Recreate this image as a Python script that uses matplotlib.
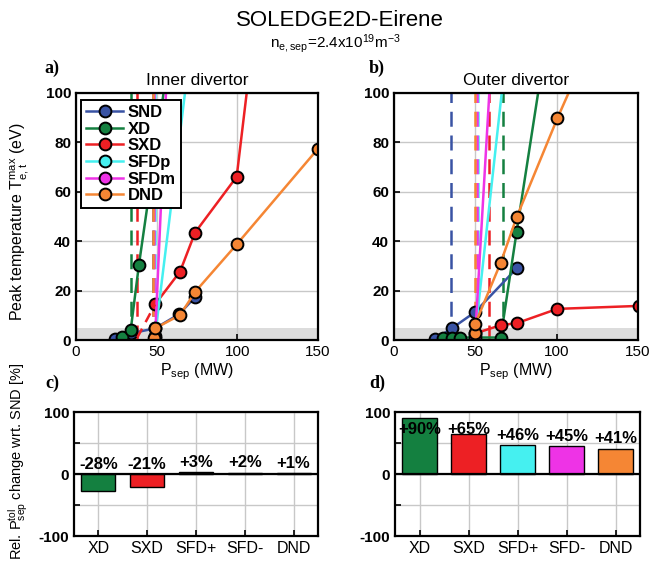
import matplotlib
matplotlib.use("Agg")
import matplotlib.pyplot as plt
import numpy as np

plt.rcParams['font.family'] = ['Liberation Sans', 'DejaVu Sans']
plt.rcParams['mathtext.default'] = 'regular'

# colours per configuration
names = ['SND', 'XD', 'SXD', 'SFDp', 'SFDm', 'DND']
colors = ['#3953a4', '#148040', '#ed2024', '#45f0f0', '#ee33e6', '#f58634']

# --- inner divertor, peak Te vs Psep ---
inner_x = {
    'SND':  [24, 34, 49, 64, 74],
    'XD':   [28.7, 33.9, 39, 58],
    'SXD':  [49, 64.5, 73.8, 99.6, 110],
    'SFDp': [49, 70],
    'SFDm': [49, 57],
    'DND':  [48.5, 49, 64.5, 74, 99.6, 149.8],
}
inner_y = {
    'SND':  [0.4, 2.7, 4.7, 10.5, 17.5],
    'XD':   [1.1, 4.0, 30.4, 117],
    'SXD':  [14.4, 27.7, 43.5, 66.1, 123],
    'SFDp': [1.5, 113],
    'SFDm': [0.7, 118],
    'DND':  [0.8, 4.7, 10.1, 19.6, 38.7, 77.3],
}
# dashed interpolation of SXD below first converged point
sxd_inner_dash_x = [38.0, 49]
sxd_inner_dash_y = [1.0, 14.4]

# --- outer divertor ---
outer_x = {
    'SND':  [25.2, 35.5, 49.8, 75.4],
    'XD':   [30.3, 35.5, 40.5, 65.6, 75.4, 90],
    'SXD':  [50, 65.6, 75.4, 100.4, 150.4],
    'SFDp': [49.8, 70],
    'SFDm': [49.8, 60],
    'DND':  [49.8, 49.8, 65.6, 75.4, 100.4, 110],
}
outer_y = {
    'SND':  [0.3, 4.7, 11.3, 29.0],
    'XD':   [1.0, 1.0, 1.0, 1.0, 43.9, 106],
    'SXD':  [2.7, 6.0, 6.8, 12.6, 13.8],
    'SFDp': [1.5, 122.7],
    'SFDm': [0.5, 115.8],
    'DND':  [2.7, 6.3, 31.3, 49.7, 89.7, 104],
}

# tolerable Psep (vertical dashed lines), MW
inner_tol = [47.5, 34.2, 37.5, 48.9, 48.5, 48.0]
outer_tol = [35.2, 66.9, 58.1, 51.4, 51.0, 49.6]

# relative change wrt SND, %
bar_labels = ['XD', 'SXD', 'SFD+', 'SFD-', 'DND']
bar_colors = colors[1:]
inner_change = [-28, -21, 3, 2, 1]
outer_change = [90, 65, 46, 45, 41]

fig = plt.figure(figsize=(6.51, 5.73), dpi=100)
W, H = 651, 573


def ax_at(x0, x1, y0, y1):
    return fig.add_axes([x0 / W, 1 - y1 / H, (x1 - x0) / W, (y1 - y0) / H])


ax_a = ax_at(76, 318, 93, 340)
ax_b = ax_at(394, 638, 93, 340)
ax_c = ax_at(74, 318, 412, 536)
ax_d = ax_at(395, 640, 412, 536)


def te_panel(ax, xs, ys, tols, title):
    ax.axhspan(0, 5, color='#dcdcdc', zorder=0, lw=0)
    for n, c, t in zip(names, colors, tols):
        ax.axvline(t, color=c, ls=(0, (6, 3.5)), lw=1.8, zorder=2)
    for n, c in zip(names, colors):
        ax.plot(xs[n], ys[n], '-o', color=c, lw=1.8, ms=8.5, mfc=c, mec='black',
                mew=1.4, zorder=3, label=n, clip_on=True)
    ax.set_xlim(0, 150)
    ax.set_ylim(0, 100)
    ax.set_xticks([0, 50, 100, 150])
    ax.set_yticks([0, 20, 40, 60, 80, 100])
    ax.grid(True, color='#c8c8c8', lw=1)
    ax.set_axisbelow(True)
    ax.tick_params(direction='in', length=4, width=1.2, labelsize=11)
    for lab in ax.get_yticklabels():
        lab.set_fontweight('bold')
    for s in ax.spines.values():
        s.set_linewidth(1.6)
        s.set_zorder(5)
    ax.set_xlabel('$P_{sep}$ (MW)', fontsize=11.5, labelpad=2)
    ax.set_title(title, fontsize=12.5, pad=6)


te_panel(ax_a, inner_x, inner_y, inner_tol, 'Inner divertor')
ax_a.plot(sxd_inner_dash_x, sxd_inner_dash_y, color=colors[2], lw=1.8,
          ls=(0, (4, 3)), zorder=3)
te_panel(ax_b, outer_x, outer_y, outer_tol, 'Outer divertor')

ax_a.set_ylabel('Peak temperature $T_{e,t}^{max}$ (eV)', fontsize=11.5)
ax_a.yaxis.set_label_coords(-0.186, 0.48)
leg = ax_a.legend(loc='upper left', bbox_to_anchor=(0.022, 0.972), borderaxespad=0,
                  fontsize=12, handlelength=2.2, labelspacing=0.1, handletextpad=0.3,
                  borderpad=0.3, fancybox=False, framealpha=1, edgecolor='black')
leg.get_frame().set_linewidth(1.4)
for t in leg.get_texts():
    t.set_fontweight('bold')


def bar_panel(ax, vals):
    pos = np.arange(1, len(vals) + 1)
    ax.bar(pos, vals, width=0.7, color=bar_colors, edgecolor='black', lw=1, zorder=3)
    ax.axhline(0, color='black', lw=1.6, zorder=4)
    for p, v in zip(pos, vals):
        ty = min(max(v, 0) + 16, 72)
        ax.text(p, ty, '%+d%%' % v, ha='center', va='center', fontsize=12,
                fontweight='bold', zorder=5)
    ax.set_xlim(0.5, 5.5)
    ax.set_ylim(-100, 100)
    ax.set_xticks(pos)
    ax.set_xticklabels(bar_labels, fontsize=11.5)
    ax.set_yticks([-100, -50, 0, 50, 100])
    ax.set_yticklabels(['-100', '', '0', '', '100'], fontweight='bold', fontsize=11)
    ax.grid(True, color='#c8c8c8', lw=1)
    ax.set_axisbelow(True)
    ax.tick_params(direction='in', length=4, width=1.2)
    for s in ax.spines.values():
        s.set_linewidth(1.6)


bar_panel(ax_c, inner_change)
bar_panel(ax_d, outer_change)
ax_c.set_ylabel('Rel. $P_{sep}^{tol}$ change wrt. SND [%]', fontsize=10.5)
ax_c.yaxis.set_label_coords(-0.18, 0.6)

# panel letters and titles
for lbl, x, y in [('a)', 52, 68), ('b)', 377, 68), ('c)', 52, 383), ('d)', 377, 383)]:
    fig.text(x / W, 1 - y / H, lbl, family='Liberation Serif', fontweight='bold',
             fontsize=13, ha='center', va='center')
fig.text(340 / W, 1 - 20 / H, 'SOLEDGE2D-Eirene', fontsize=16, ha='center', va='center')
fig.text(335 / W, 1 - 44 / H, '$n_{e,sep}$=2.4x10$^{19}$m$^{-3}$', fontsize=11,
         ha='center', va='center')

fig.savefig('out.png', dpi=100)
